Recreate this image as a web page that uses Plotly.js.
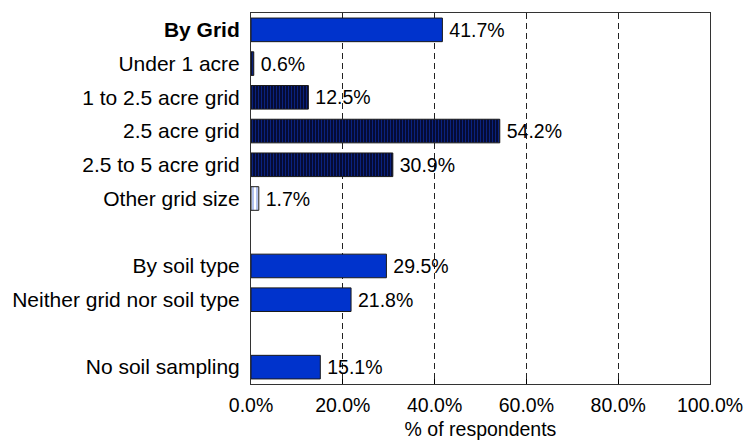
<!DOCTYPE html>
<html>
<head>
<meta charset="utf-8">
<script src="https://cdn.plot.ly/plotly-3.0.1.min.js"></script>
<style>
  html, body { margin: 0; padding: 0; background: #ffffff; }
  #chart { width: 746px; height: 445px; }
</style>
</head>
<body>
<div id="chart"></div>
<script>
// Categories (top to bottom); blank strings are spacer rows
const categories = [
  "<b>By Grid</b>",
  "Under 1 acre",
  "1 to 2.5 acre grid",
  "2.5 acre grid",
  "2.5 to 5 acre grid",
  "Other grid size",
  " ",
  "By soil type",
  "Neither grid nor soil type",
  "  ",
  "No soil sampling"
];
// Percent of respondents
const values = [41.7, 0.6, 12.5, 54.2, 30.9, 1.7, null, 29.5, 21.8, null, 15.1];
// Fill style group of each row: 0 = solid blue, 1 = dark striped, 2 = white striped
const styleGroup = [0, 1, 1, 1, 1, 2, 0, 0, 0, 0, 0];
const xTickVals = [0, 20, 40, 60, 80, 100];
const xTickText = ["0.0%", "20.0%", "40.0%", "60.0%", "80.0%", "100.0%"];

const BLUE = "#0033cc";
const STRIPE = "#1040e0";
const NAVY = "#04041c";
const FONT = "Liberation Sans, Arial, sans-serif";

const groupStyles = [
  { color: BLUE, pattern: { shape: "" } },
  { color: NAVY, pattern: { shape: "|", bgcolor: NAVY, fgcolor: STRIPE, size: 3, solidity: 0.5, fillmode: "overlay" } },
  { color: "#ffffff", pattern: { shape: "|", bgcolor: "#ffffff", fgcolor: BLUE, size: 4, solidity: 0.3, fillmode: "overlay" } }
];

const traces = groupStyles.map((st, g) => {
  const xs = values.map((v, i) => styleGroup[i] === g ? v : null);
  return {
    type: "bar",
    orientation: "h",
    y: categories,
    x: xs,
    width: 0.7,
    text: xs.map(v => v === null ? "" : "\u2009" + v.toFixed(1) + "%"),
    textposition: "outside",
    cliponaxis: false,
    textfont: { family: FONT, size: 19.5, color: "#000000" },
    marker: {
      color: st.color,
      line: { color: "#1a1a1a", width: 1 },
      pattern: st.pattern
    },
    hoverinfo: "skip"
  };
});

const layout = {
  width: 746,
  height: 445,
  margin: { l: 251, r: 36, t: 13, b: 61 },
  paper_bgcolor: "#ffffff",
  plot_bgcolor: "#ffffff",
  showlegend: false,
  barmode: "overlay",
  font: { family: FONT, size: 19.5, color: "#000000" },
  xaxis: {
    range: [0, 100],
    tickvals: xTickVals,
    ticktext: xTickText,
    ticks: "inside",
    ticklen: 5,
    tickcolor: "#000000",
    showgrid: true,
    gridcolor: "#222222",
    griddash: "6px,4px",
    gridwidth: 1,
    zeroline: false,
    showline: true,
    linecolor: "#333333",
    linewidth: 1,
    mirror: true,
    ticklabelstandoff: 4,
    tickfont: { size: 19.5 },
    title: { text: "% of respondents", font: { size: 19.5 }, standoff: 6 }
  },
  yaxis: {
    type: "category",
    categoryorder: "array",
    categoryarray: categories,
    autorange: "reversed",
    ticks: "",
    showgrid: false,
    zeroline: false,
    showline: true,
    linecolor: "#333333",
    linewidth: 1,
    mirror: true,
    ticklabelstandoff: 6,
    tickfont: { size: 21 }
  }
};

Plotly.newPlot("chart", traces, layout, { staticPlot: true, displayModeBar: false });
</script>
</body>
</html>
